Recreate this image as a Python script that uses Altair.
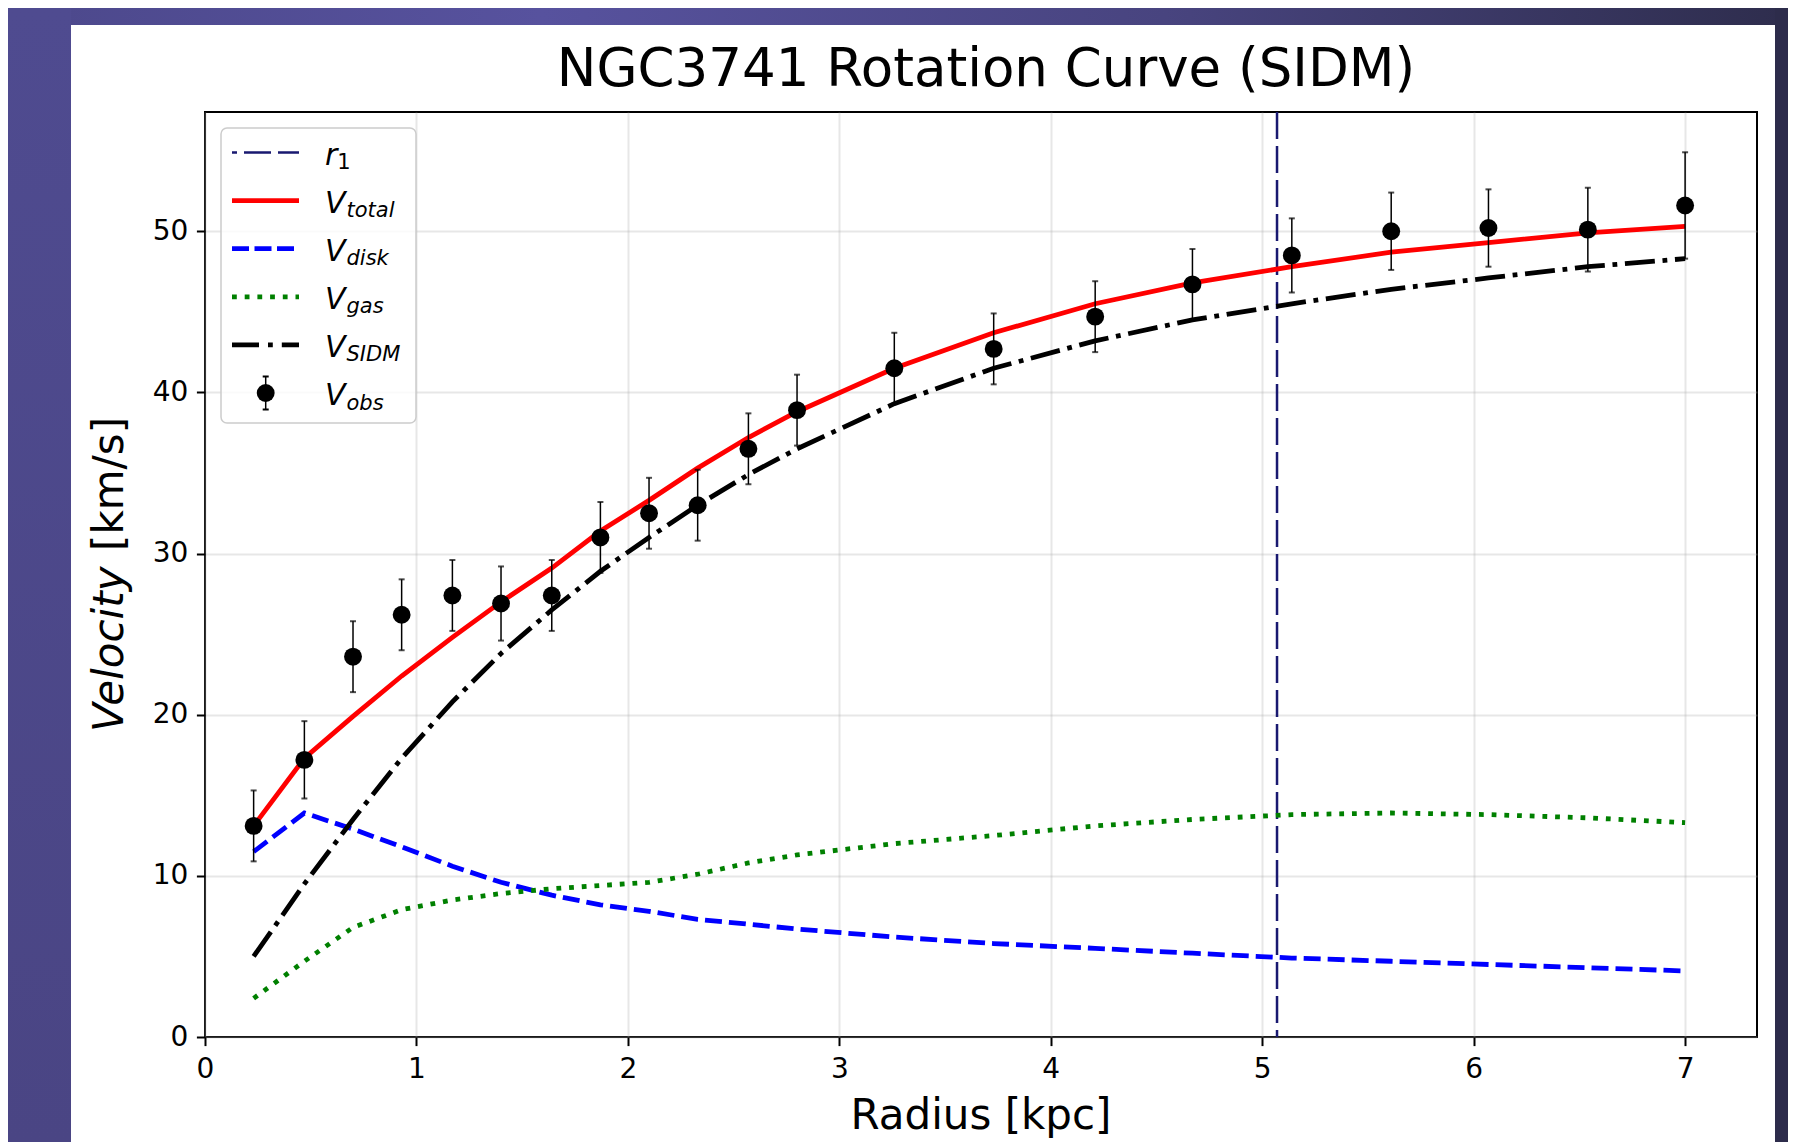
import altair as alt
import pandas as pd

# ---------------- data ----------------
radius = [0.23, 0.47, 0.70, 0.93, 1.17, 1.40, 1.64, 1.87, 2.10, 2.33, 2.57,
          2.80, 3.26, 3.73, 4.21, 4.67, 5.14, 5.61, 6.07, 6.54, 7.00]
v_obs = [13.1, 17.2, 23.6, 26.2, 27.4, 26.9, 27.4, 31.0, 32.5, 33.0, 36.5,
         38.9, 41.5, 42.7, 44.7, 46.7, 48.5, 50.0, 50.2, 50.1, 51.6]
v_err = [2.2, 2.4, 2.2, 2.2, 2.2, 2.3, 2.2, 2.2, 2.2, 2.2, 2.2,
         2.2, 2.2, 2.2, 2.2, 2.2, 2.3, 2.4, 2.4, 2.6, 3.3]
v_total = [13.1, 17.3, 19.9, 22.4, 24.8, 27.0, 29.1, 31.4, 33.3, 35.3, 37.2,
           38.8, 41.5, 43.7, 45.5, 46.8, 47.8, 48.7, 49.3, 49.9, 50.3]
v_disk = [11.5, 13.9, 12.9, 11.8, 10.6, 9.6, 8.8, 8.2, 7.8, 7.3, 7.0,
          6.7, 6.2, 5.8, 5.5, 5.2, 4.9, 4.7, 4.5, 4.3, 4.1]
v_gas = [2.4, 4.7, 6.8, 7.9, 8.5, 8.9, 9.2, 9.4, 9.6, 10.1, 10.8,
         11.3, 12.0, 12.5, 13.1, 13.5, 13.8, 13.9, 13.8, 13.6, 13.3]
v_sidm = [5.0, 9.5, 13.5, 17.3, 20.8, 23.8, 26.5, 28.9, 31.0, 33.0, 34.9,
          36.5, 39.3, 41.5, 43.2, 44.5, 45.5, 46.4, 47.1, 47.8, 48.3]
r1_radius = [5.07]

x_ticks = [0, 1, 2, 3, 4, 5, 6, 7]
y_ticks = [0, 10, 20, 30, 40, 50]
x_domain = [0, 7.34]
y_domain = [0, 57.4]

title_text = "NGC3741 Rotation Curve (SIDM)"
x_title = "Radius [kpc]"
y_title_italic = "Velocity"
y_title_rest = "[km/s]"
legend_main = ["r", "V", "V", "V", "V", "V"]
legend_sub = ["1", "total", "disk", "gas", "SIDM", "obs"]

# ---------------- layout ----------------
W, H = 1552, 925
PAD_L, PAD_T = 197, 104
CANVAS_W, CANVAS_H = 1780, 1134
PAD_R = CANVAS_W - PAD_L - W
PAD_B = CANVAS_H - PAD_T - H
FONT = "DejaVu Sans"

df = pd.DataFrame({
    "radius": radius, "v_obs": v_obs, "v_err": v_err, "v_total": v_total,
    "v_disk": v_disk, "v_gas": v_gas, "v_sidm": v_sidm,
})
df["lo"] = df["v_obs"] - df["v_err"]
df["hi"] = df["v_obs"] + df["v_err"]
one = pd.DataFrame({"a": [0]})

xs = alt.Scale(domain=x_domain, nice=False, zero=False)
ys = alt.Scale(domain=y_domain, nice=False, zero=False)
x_axis = alt.Axis(values=x_ticks, title=None, grid=True, format="d")
y_axis = alt.Axis(values=y_ticks, title=None, grid=True, format="d")


def X(f):
    return alt.X(f, type="quantitative", scale=xs, axis=x_axis)


def Y(f):
    return alt.Y(f, type="quantitative", scale=ys, axis=y_axis)


base = alt.Chart(df)

# ---------------- decorative purple frame ----------------
grad_top = alt.LinearGradient(
    gradient="linear", x1=0, x2=1, y1=0, y2=0,
    stops=[alt.GradientStop(color="#4c488b", offset=0),
           alt.GradientStop(color="#57529e", offset=0.3),
           alt.GradientStop(color="#48447f", offset=0.65),
           alt.GradientStop(color="#2e2d4d", offset=1)])
grad_left = alt.LinearGradient(
    gradient="linear", x1=0, x2=0, y1=0, y2=1,
    stops=[alt.GradientStop(color="#4f4b90", offset=0),
           alt.GradientStop(color="#4a4584", offset=1)])
top_strip = alt.Chart(one).mark_rect(fill=grad_top).encode(
    x=alt.value(-PAD_L), x2=alt.value(W + PAD_R),
    y=alt.value(-PAD_T), y2=alt.value(-87))
left_strip = alt.Chart(one).mark_rect(fill=grad_left).encode(
    x=alt.value(-PAD_L), x2=alt.value(-134),
    y=alt.value(-PAD_T), y2=alt.value(H + PAD_B))
right_strip = alt.Chart(one).mark_rect(fill="#2d2c4b").encode(
    x=alt.value(1570), x2=alt.value(W + PAD_R),
    y=alt.value(-PAD_T), y2=alt.value(H + PAD_B))

# ---------------- data layers ----------------
r1_line = alt.Chart(pd.DataFrame({"radius": r1_radius})).mark_rule(
    color="#191970", strokeWidth=2.5, strokeDash=[27, 7]).encode(x=X("radius"))

LW = 4.8
l_total = base.mark_line(color="#ff0000", strokeWidth=LW).encode(x=X("radius"), y=Y("v_total"))
l_disk = base.mark_line(color="#0000ff", strokeWidth=LW, strokeDash=[17, 7]).encode(
    x=X("radius"), y=Y("v_disk"))
l_gas = base.mark_line(color="#008000", strokeWidth=LW, strokeDash=[4.8, 7.9]).encode(
    x=X("radius"), y=Y("v_gas"))
l_sidm = base.mark_line(color="#000000", strokeWidth=LW, strokeDash=[30, 7.7, 4.8, 7.7]).encode(
    x=X("radius"), y=Y("v_sidm"))

err_rule = base.mark_rule(color="black", strokeWidth=1.5).encode(
    x=X("radius"), y=Y("lo"), y2="hi")
cap_lo = base.mark_tick(color="black", orient="horizontal", size=6, thickness=2).encode(
    x=X("radius"), y=Y("lo"))
cap_hi = base.mark_tick(color="black", orient="horizontal", size=6, thickness=2).encode(
    x=X("radius"), y=Y("hi"))
MS = 320
points = base.mark_circle(color="black", opacity=1, size=MS).encode(
    x=X("radius"), y=Y("v_obs"))

# ---------------- legend (drawn) ----------------
rows = [40.5 + 48.1 * i for i in range(6)]
SX1, SX2, SXC = 27, 94, 60.7
TX = 120
legend_box = alt.Chart(one).mark_rect(
    fill="white", fillOpacity=0.8, stroke="#cccccc", strokeWidth=1.5, cornerRadius=6
).encode(x=alt.value(16), x2=alt.value(211), y=alt.value(16), y2=alt.value(311))

sym_styles = [
    dict(color="#191970", strokeWidth=2.5, strokeDash=[27, 7], strokeDashOffset=22),
    dict(color="#ff0000", strokeWidth=LW),
    dict(color="#0000ff", strokeWidth=LW, strokeDash=[17, 5.5]),
    dict(color="#008000", strokeWidth=LW, strokeDash=[4.8, 7.9]),
    dict(color="#000000", strokeWidth=LW, strokeDash=[27, 9, 4.8, 9]),
]
legend_layers = [legend_box]
for i, st in enumerate(sym_styles):
    legend_layers.append(alt.Chart(one).mark_rule(**st).encode(
        x=alt.value(SX1), x2=alt.value(SX2), y=alt.value(rows[i])))
ry = rows[5]
legend_layers.append(alt.Chart(one).mark_rule(color="black", strokeWidth=1.5).encode(
    x=alt.value(SXC), y=alt.value(ry - 16.5), y2=alt.value(ry + 16.5)))
for cy in (ry - 16.5, ry + 16.5):
    legend_layers.append(alt.Chart(one).mark_rule(color="black", strokeWidth=2).encode(
        x=alt.value(SXC - 3), x2=alt.value(SXC + 3), y=alt.value(cy)))
legend_layers.append(alt.Chart(one).mark_circle(color="black", opacity=1, size=MS).encode(
    x=alt.value(SXC), y=alt.value(ry)))

for i in range(6):
    sub_x = TX + (12.3 if i == 0 else 21.5)
    legend_layers.append(alt.Chart(one).mark_text(
        text=legend_main[i], font=FONT, fontSize=30, fontStyle="italic",
        align="left", baseline="alphabetic", color="black").encode(
        x=alt.value(TX), y=alt.value(rows[i] + 12)))
    legend_layers.append(alt.Chart(one).mark_text(
        text=legend_sub[i], font=FONT, fontSize=21,
        fontStyle="normal" if i == 0 else "italic",
        align="left", baseline="alphabetic", color="black").encode(
        x=alt.value(sub_x), y=alt.value(rows[i] + 16.5)))

# ---------------- titles (drawn as text) ----------------
title_mark = alt.Chart(one).mark_text(
    text=title_text, font=FONT, fontSize=53, align="center", baseline="alphabetic",
    color="black").encode(x=alt.value(781), y=alt.value(-26))
xlab = alt.Chart(one).mark_text(
    text=x_title, font=FONT, fontSize=42, align="center", baseline="alphabetic",
    color="black").encode(x=alt.value(776), y=alt.value(1017))
ylab1 = alt.Chart(one).mark_text(
    text=y_title_italic, font=FONT, fontSize=42, fontStyle="italic", angle=270,
    align="left", baseline="alphabetic", color="black").encode(
    x=alt.value(-82.5), y=alt.value(620))
ylab2 = alt.Chart(one).mark_text(
    text=y_title_rest, font=FONT, fontSize=42, angle=270,
    align="left", baseline="alphabetic", color="black").encode(
    x=alt.value(-82.5), y=alt.value(439))

chart = alt.layer(
    top_strip, left_strip, right_strip,
    r1_line, l_total, l_disk, l_gas, l_sidm,
    err_rule, cap_lo, cap_hi, points,
    *legend_layers,
    title_mark, xlab, ylab1, ylab2,
).properties(
    width=W, height=H,
    autosize=alt.AutoSizeParams(type="none"),
    padding={"left": PAD_L, "top": PAD_T, "right": PAD_R, "bottom": PAD_B},
).configure(
    background="white",
).configure_view(
    stroke="black", strokeWidth=2, fill="white",
).configure_axis(
    domain=False, gridColor="#b0b0b0", gridOpacity=0.3, gridWidth=2,
    tickColor="black", tickSize=8.6, tickWidth=2,
    labelFont=FONT, labelFontSize=28, labelColor="black",
    labelFlush=False, labelOverlap=False,
).configure_axisX(
    labelPadding=10,
).configure_axisY(
    labelPadding=8.5,
)

chart.save("out.html", embed_options={"renderer": "svg", "actions": False})
